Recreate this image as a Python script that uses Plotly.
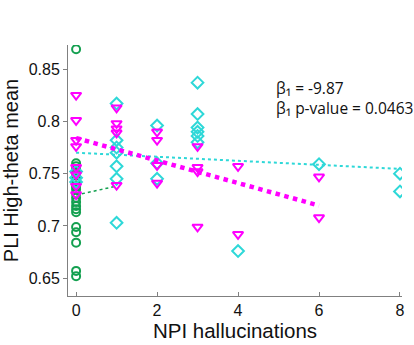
import plotly.graph_objects as go

# Green group (circles) – all at NPI = 0
green_x = [0] * 21
green_y = [0.869, 0.760, 0.757, 0.754, 0.751, 0.748, 0.745, 0.742, 0.738, 0.735,
           0.731, 0.727, 0.723, 0.719, 0.716, 0.713, 0.699, 0.694, 0.684, 0.657, 0.652]

# Magenta group (down triangles)
mag_x = [0, 0, 0, 0, 0, 0, 0, 0,
         1, 1, 1, 1, 1,
         2, 2, 2, 2,
         3, 3, 3, 3,
         4, 4,
         6, 6]
mag_y = [0.825, 0.801, 0.782, 0.776, 0.756, 0.749, 0.738, 0.730,
         0.813, 0.798, 0.793, 0.789, 0.739,
         0.790, 0.782, 0.758, 0.741,
         0.776, 0.756, 0.752, 0.699,
         0.757, 0.692,
         0.747, 0.708]

# Cyan group (diamonds)
cyan_x = [0, 0, 0,
          1, 1, 1, 1, 1, 1, 1,
          2, 2, 2,
          3, 3, 3, 3, 3, 3,
          4,
          6,
          8, 8]
cyan_y = [0.752, 0.746, 0.742,
          0.817, 0.782, 0.775, 0.770, 0.757, 0.745, 0.703,
          0.796, 0.760, 0.745,
          0.837, 0.807, 0.794, 0.790, 0.786, 0.780,
          0.676,
          0.759,
          0.750, 0.733]

# Fitted lines (endpoints)
green_fit_x = [0, 0.93]
green_fit_y = [0.7295, 0.7375]
mag_fit_x = [0, 6]
mag_fit_y = [0.784, 0.7195]
cyan_fit_x = [0, 8]
cyan_fit_y = [0.770, 0.7545]

GREEN = "#14A050"
MAG = "#FF00FF"
CYAN = "#2ED8D8"

fig = go.Figure()

fig.add_trace(go.Scatter(x=cyan_fit_x, y=cyan_fit_y, mode="lines",
                         line=dict(color=CYAN, width=2, dash="dot"), hoverinfo="skip"))
fig.add_trace(go.Scatter(x=green_fit_x, y=green_fit_y, mode="lines",
                         line=dict(color=GREEN, width=1.5, dash="dot"), hoverinfo="skip"))
fig.add_trace(go.Scatter(x=green_x, y=green_y, mode="markers",
                         marker=dict(symbol="circle-open", size=8, color=GREEN,
                                     line=dict(width=2, color=GREEN))))
fig.add_trace(go.Scatter(x=cyan_x, y=cyan_y, mode="markers",
                         marker=dict(symbol="diamond-open", size=9, color=CYAN,
                                     line=dict(width=2, color=CYAN))))
fig.add_trace(go.Scatter(x=mag_x, y=mag_y, mode="markers",
                         marker=dict(symbol="triangle-down-open", size=9, color=MAG,
                                     line=dict(width=2, color=MAG))))
fig.add_trace(go.Scatter(x=mag_fit_x, y=mag_fit_y, mode="lines",
                         line=dict(color=MAG, width=4.5, dash="dot"), hoverinfo="skip"))

fig.add_annotation(xref="paper", yref="paper", x=0.617, y=0.83, xanchor="left",
                   yanchor="middle", showarrow=False, align="left",
                   text="β₁ = -9.87", font=dict(family="Open Sans", size=15.5, color="#111"))
fig.add_annotation(xref="paper", yref="paper", x=0.617, y=0.75, xanchor="left",
                   yanchor="middle", showarrow=False, align="left",
                   text="β₁ p-value = 0.0463", font=dict(family="Open Sans", size=15.5, color="#111"))

fig.update_layout(
    width=414, height=345,
    margin=dict(l=68, r=9, t=45, b=48),
    paper_bgcolor="white", plot_bgcolor="white",
    showlegend=False,
    font=dict(family="Liberation Sans, Arial", color="#111"),
    xaxis=dict(range=[-0.2, 8.05], tickvals=[0, 2, 4, 6, 8],
               ticks="inside", ticklen=4, tickcolor="#808080",
               showline=True, linecolor="#808080", linewidth=1,
               showgrid=False, zeroline=False,
               tickfont=dict(size=16),
               title=dict(text="NPI hallucinations", font=dict(size=20.5), standoff=2)),
    yaxis=dict(range=[0.633, 0.873], tickvals=[0.65, 0.7, 0.75, 0.8, 0.85],
               ticktext=["0.65", "0.7", "0.75", "0.8", "0.85"],
               ticks="outside", ticklen=4, tickcolor="#808080",
               showline=True, linecolor="#808080", linewidth=1,
               showgrid=False, zeroline=False,
               tickfont=dict(size=16),
               title=dict(text="PLI High-theta mean", font=dict(size=20), standoff=5)),
)

fig.write_html("out.html")
